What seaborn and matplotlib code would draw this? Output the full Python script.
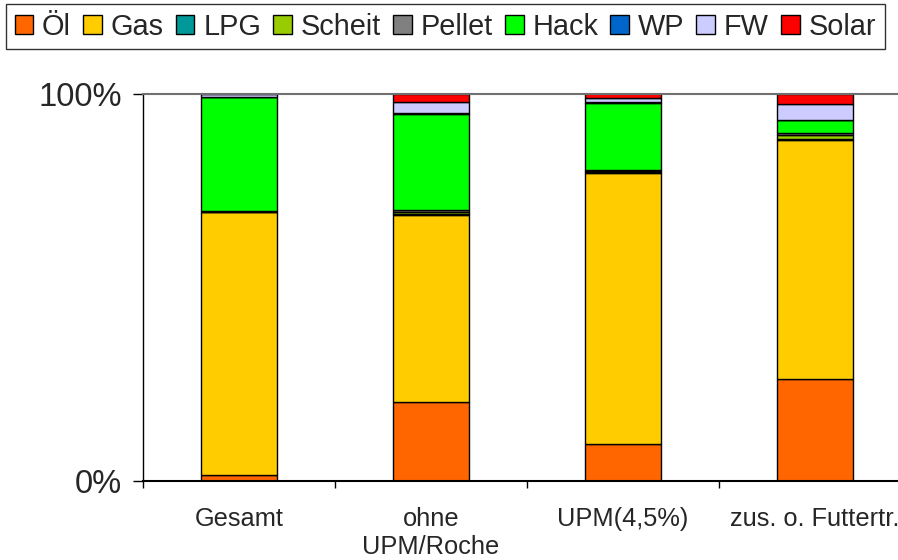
import matplotlib
matplotlib.use("Agg")
import matplotlib.pyplot as plt
import seaborn as sns
import numpy as np
from matplotlib.patches import Patch

sns.set_style("white")
plt.rcParams['font.family'] = ['Liberation Sans', 'DejaVu Sans']

categories = ["Gesamt", "ohne\nUPM/Roche", "UPM(4,5%)", "zus. o. Futtertr."]
series_names = ["Öl", "Gas", "LPG", "Scheit", "Pellet", "Hack", "WP", "FW", "Solar"]
oel    = [1.6, 20.4, 9.6, 26.4]
gas    = [67.8, 48.3, 69.9, 61.7]
lpg    = [0.1, 0.1, 0.2, 0.2]
scheit = [0.1, 0.5, 0.2, 0.9]
pellet = [0.2, 0.7, 0.4, 0.6]
hack   = [29.4, 24.8, 17.3, 3.3]
wp     = [0.0, 0.1, 0.1, 0.1]
fw     = [0.8, 3.0, 1.2, 4.2]
solar  = [0.0, 2.1, 1.1, 2.6]
colors = ["#FF6600", "#FFCC00", "#009999", "#99CC00", "#808080",
          "#00FF00", "#0066CC", "#CCCCFF", "#FF0000"]

series = [oel, gas, lpg, scheit, pellet, hack, wp, fw, solar]

fig = plt.figure(figsize=(8.98, 5.6), dpi=100)
ax = fig.add_axes([143/898, 1-481/560, 768/898, (481-93.5)/560])

bottom = np.zeros(len(categories))
for name, vals, col in zip(series_names, series, colors):
    sns.barplot(x=categories, y=vals, bottom=bottom, color=col, width=0.4,
                edgecolor="black", linewidth=1.0, ax=ax, saturation=1)
    bottom = bottom + np.array(vals)

ax.set_xlim(-0.5, 3.5)
ax.set_ylim(0, 100)
ax.set_yticks([0, 100])
ax.set_yticklabels(["0%", "100%"], fontsize=23.5)
ax.tick_params(axis='y', direction='out', length=7, width=1, left=True, pad=8, color='black')
ax.set_xticks(range(len(categories)))
ax.set_xticklabels(categories, fontsize=18.3)
ax.set_xticks([-0.5, 0.5, 1.5, 2.5, 3.5], minor=True)
ax.tick_params(axis='x', which='major', length=0, pad=19)
ax.tick_params(axis='x', which='minor', direction='out', length=5, width=1, bottom=True, color='black')

ax.spines["right"].set_visible(False)
ax.spines["top"].set_color("#707070")
ax.spines["top"].set_linewidth(1.5)
ax.spines["left"].set_color("black")
ax.spines["left"].set_linewidth(1)
ax.spines["bottom"].set_color("black")
ax.spines["bottom"].set_linewidth(1.5)
ax.set_xlabel("")
ax.set_ylabel("")

handles = [Patch(facecolor=c, edgecolor="black", linewidth=1) for c in colors]
leg = fig.legend(handles, series_names, loc="upper left", bbox_to_anchor=(6/898, 1-4/560),
                 ncol=9, fontsize=20.8, frameon=True, fancybox=False,
                 handlelength=0.65, handleheight=0.65, handletextpad=0.3,
                 columnspacing=0.42, borderpad=0.3, borderaxespad=0)
leg.get_frame().set_edgecolor("black")
leg.get_frame().set_linewidth(1)

fig.savefig("out.png", dpi=100)
